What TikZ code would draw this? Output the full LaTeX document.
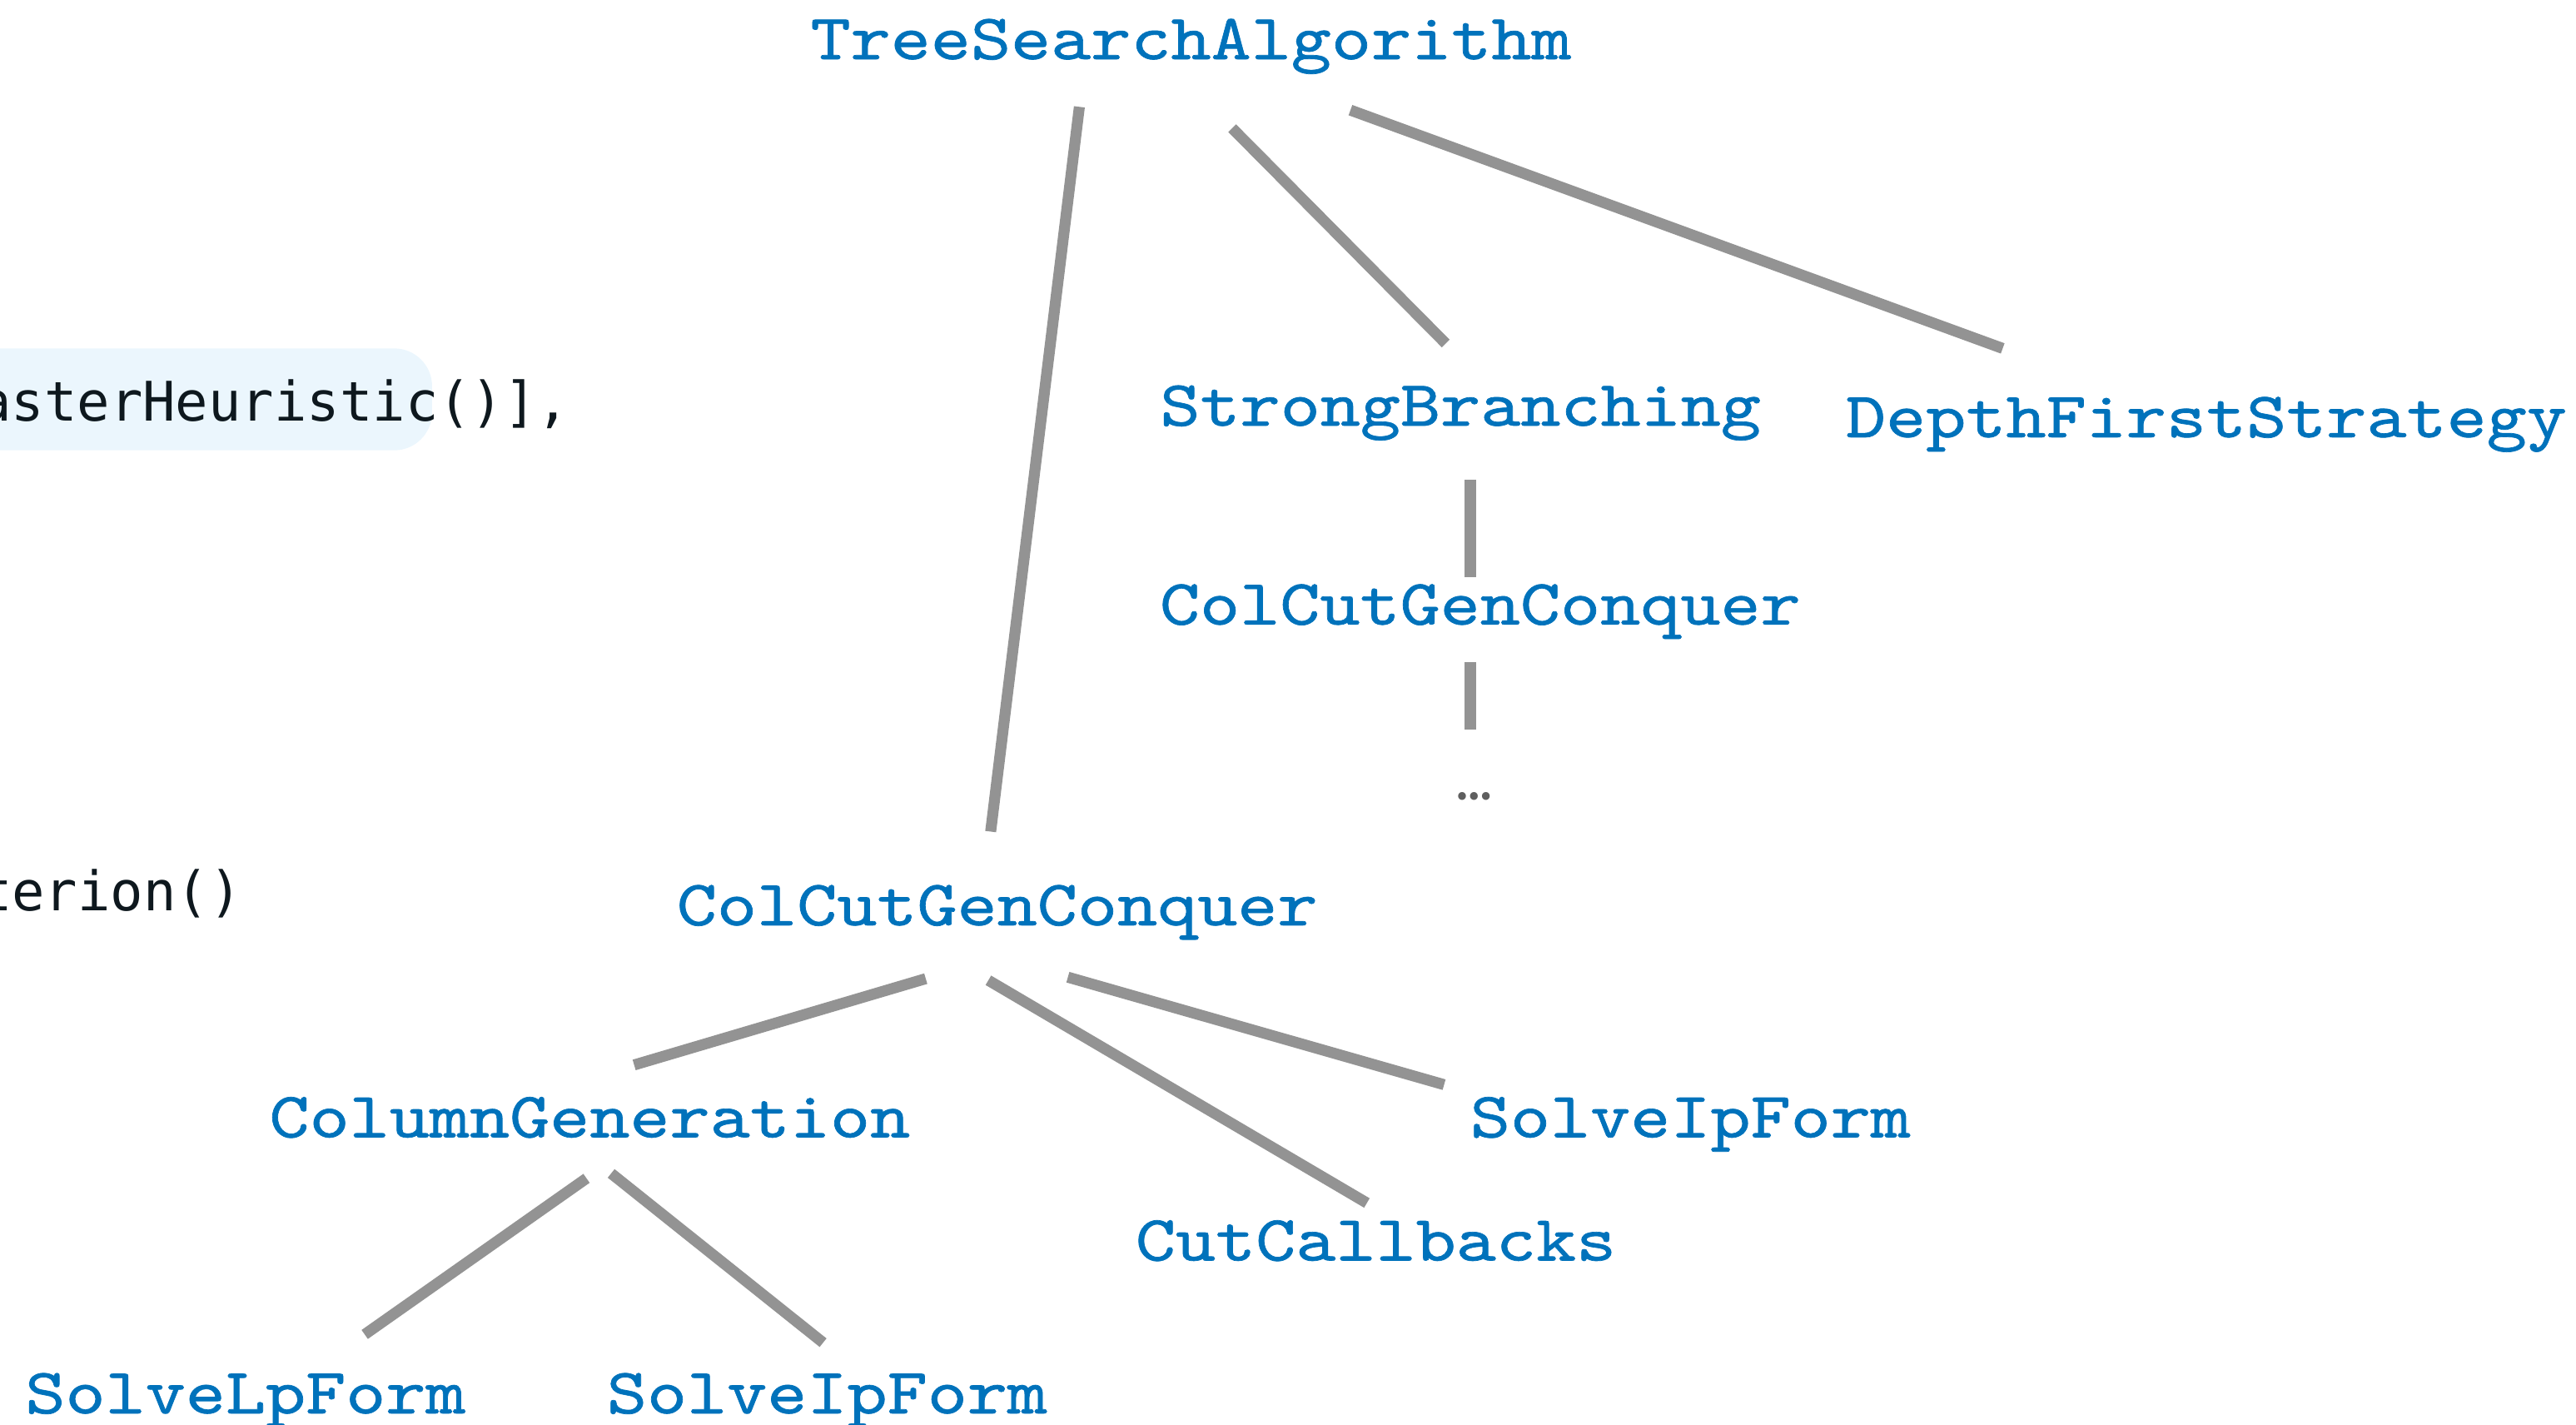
\documentclass[tikz,border=0pt]{standalone}
\usepackage{fontspec}
\usetikzlibrary{calc}
\newfontfamily\treefont[FakeStretch=1.18,FakeBold=0.9]{lmmono10-regular.otf}
\newfontfamily\codefont{DejaVu Sans Mono}
\newfontfamily\dotfont{Poppins}
\definecolor{treeBlue}{RGB}{0,114,187}
\definecolor{edgeGray}{RGB}{147,147,147}
\definecolor{dotGray}{RGB}{95,95,95}
\definecolor{codeInk}{RGB}{14,24,30}
\definecolor{codeHi}{RGB}{235,246,253}

\begin{document}
\begin{tikzpicture}[
    x=0.02cm, y=-0.02cm,
    algo/.style={inner sep=0pt, anchor=base, text=treeBlue, font=\treefont\fontsize{22.4}{26}\selectfont},
    code/.style={inner sep=0pt, anchor=base west, text=codeInk, font=\codefont\fontsize{18.9}{22}\selectfont},
    edge/.style={draw=edgeGray, line width=3.8pt}
]

% Canvas
\useasboundingbox (0,0) rectangle (1568,867);
\clip (0,0) rectangle (1568,867);

% Code fragments on the left
\fill[codeHi, rounded corners=0.46cm] (-40,212) rectangle (263,274);
\node[code] (heur) at (-13.4,256) {asterHeuristic()],};
\node[code] (crit) at (-13,554) {terion()};

% Top level
\node[algo] (root)     at (725,36)   {TreeSearchAlgorithm};
\node[algo] (strongBr) at (889,259)  {StrongBranching};
\node[algo] (dfs)      at (1343,266) {DepthFirstStrategy};

% Strong branching chain
\node[algo] (ccgcSb) at (901,380) {ColCutGenConquer};
\node[inner sep=0pt, anchor=base, text=dotGray, font=\dotfont\fontsize{22}{24}\selectfont] (more) at (897.5,487) {…};

% Conquer subtree
\node[algo] (ccgc)   at (607,563)   {ColCutGenConquer};
\node[algo] (colGen) at (359,692)   {ColumnGeneration};
\node[algo] (ipForm) at (1029,692)  {SolveIpForm};
\node[algo] (cutCb)  at (837.5,767) {CutCallbacks};
\node[algo] (lpSub)  at (149.5,860) {SolveLpForm};
\node[algo] (ipSub)  at (503.5,860) {SolveIpForm};

% Edges from the root
\draw[edge] ($(root.base)+(-68,29)$) -- ($(ccgc.base)+(-4,-57)$);
\draw[edge] ($(root.base)+(25,42)$) -- ($(strongBr.base)+(-9,-50)$);
\draw[edge] ($(root.base)+(97,31)$) -- ($(dfs.base)+(-124,-54)$);

% Strong branching chain
\draw[edge] ($(strongBr.base)+(6,33)$) -- ($(ccgcSb.base)+(-6,-29)$);
\draw[edge] ($(ccgcSb.base)+(-6,23)$) -- ($(more.base)+(-2.5,-43)$);

% Conquer children
\draw[edge] ($(ccgc.base)+(-43.5,32.5)$) -- ($(colGen.base)+(27,-44)$);
\draw[edge] ($(ccgc.base)+(-5.4,33.5)$) -- ($(cutCb.base)+(-5.5,-35)$);
\draw[edge] ($(ccgc.base)+(43,31.6)$) -- ($(ipForm.base)+(-150,-32)$);

% Column generation children
\draw[edge] ($(colGen.base)+(-2,25)$) -- ($(lpSub.base)+(72.5,-48)$);
\draw[edge] ($(colGen.base)+(13,22)$) -- ($(ipSub.base)+(-2.5,-43)$);

\end{tikzpicture}
\end{document}
